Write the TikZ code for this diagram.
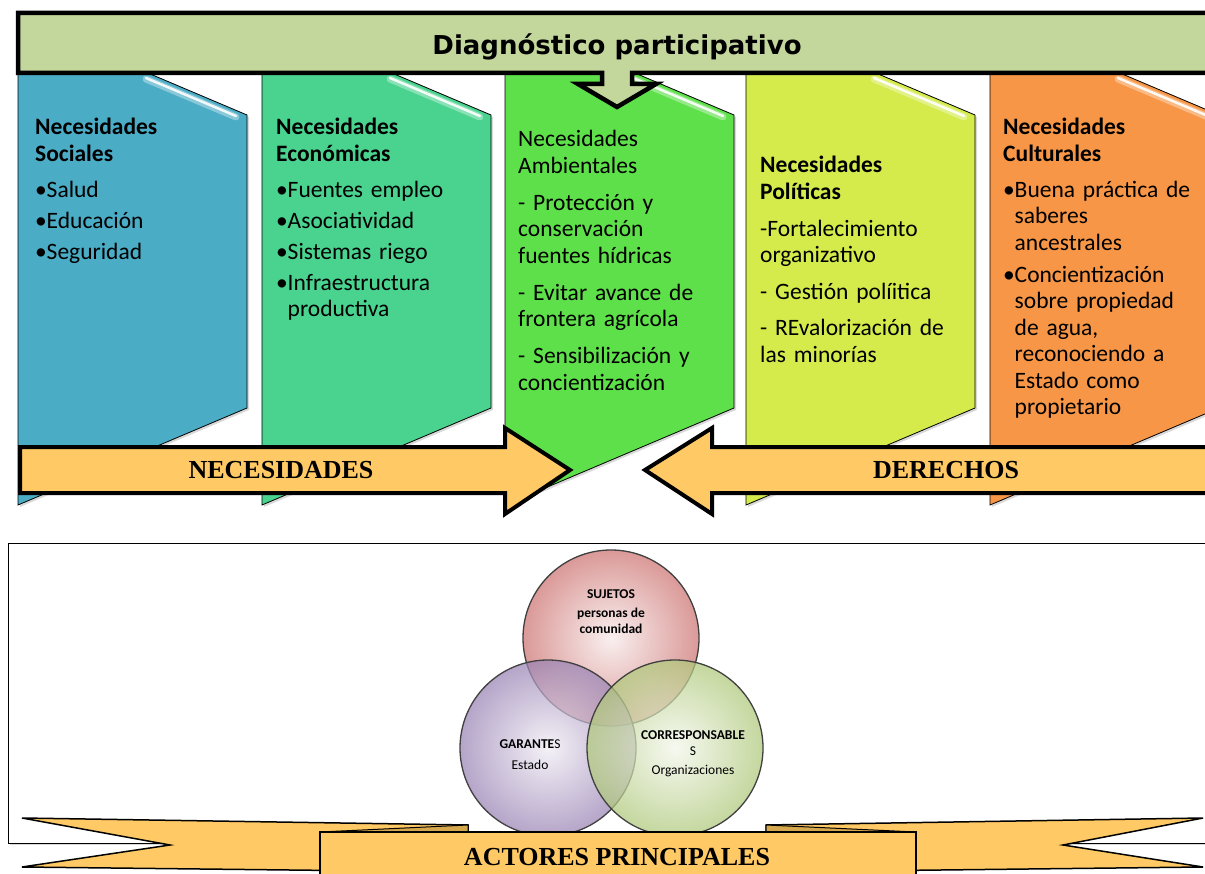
\documentclass[tikz,border=0pt]{standalone}
\usepackage{fontspec}
\setmainfont{Carlito}
\newfontfamily\titlefont{DejaVu Sans}
\newfontfamily\serifbold{Liberation Serif}
\usetikzlibrary{calc,shadows}

\definecolor{socCol}{HTML}{4BACC6}
\definecolor{ecoCol}{HTML}{4AD38F}
\definecolor{ambCol}{HTML}{5EE04A}
\definecolor{polCol}{HTML}{D5EA4B}
\definecolor{culCol}{HTML}{F79646}
\definecolor{bannerCol}{HTML}{C3D69B}
\definecolor{arrowCol}{HTML}{FFCA65}
\definecolor{foldCol}{HTML}{D6A84E}
\definecolor{sujCol}{HTML}{C0504D}
\definecolor{garCol}{HTML}{8064A2}
\definecolor{corCol}{HTML}{9BBB59}

\newlength\bulw
\setlength\bulw{11.5pt}
\newcommand\bul[2][4.5pt]{\par\vspace{#1}\hangindent=\bulw\hangafter=1\noindent\makebox[\bulw][l]{•}#2}
\newcommand\dsh[2][10.5pt]{\par\vspace{#1}\noindent #2}

\tikzset{
    paneltext/.style={anchor=north west, inner sep=0pt, text width=215pt,
        font=\fontsize{23.5}{26.5}\selectfont, execute at begin node=\raggedright},
    bigarrow/.style={fill=arrowCol, draw=black, line width=4pt, line join=miter},
    arrowlabel/.style={inner sep=0pt, font=\serifbold\bfseries\fontsize{26}{30}\selectfont},
    bubble/.style={circle, minimum size=176pt, inner sep=0pt, draw=black!75,
        line width=1.3pt, shading=radial, inner color=#1!12, outer color=#1!80,
        fill opacity=0.72},
    bubbletext/.style={align=center, inner sep=0pt, font=\fontsize{13.5}{16}\selectfont}
}

\begin{document}
\begin{tikzpicture}[x=1pt, y=-1pt]
            \useasboundingbox (0, 0) rectangle (1205, 874);
            \clip (0, 0) rectangle (1205, 874);

            % lower frame
            \filldraw[fill=white, draw=black, line width=1pt,
                drop shadow={opacity=0.3, shadow xshift=2pt, shadow yshift=-2pt}]
                (8, 543) rectangle (1215, 843);

            % panels
            \foreach \lx/\col [count=\i] in {18/socCol, 262/ecoCol, 505/ambCol, 746/polCol, 990/culCol}
                {
                    \coordinate (P\i) at (\lx, 0);
                    \filldraw[fill=\col, draw=black, line width=0.8pt,
                        drop shadow={opacity=0.3, shadow xshift=2pt, shadow yshift=-2pt}]
                        ($ (P\i) + (0, 18) $) -- ($ (P\i) + (229, 115) $)
                        -- ($ (P\i) + (229, 408) $) -- ($ (P\i) + (0, 505) $) -- cycle;
                    \draw[white, opacity=0.35, line width=7pt, line cap=round]
                        ($ (P\i) + (128, 79) $) -- ($ (P\i) + (218, 117) $);
                    \draw[white, opacity=0.9, line width=2.5pt, line cap=round]
                        ($ (P\i) + (128, 78) $) -- ($ (P\i) + (218, 116) $);
                }

            \node (socTxt) [paneltext] at (35, 118)
                {\noindent\textbf{Necesidades\newline Sociales}\bul[9.5pt]{Salud}\bul{Educación}\bul{Seguridad}\par};
            \node (ecoTxt) [paneltext] at (276, 118)
                {\noindent\textbf{Necesidades\newline Económicas}\bul[9.5pt]{Fuentes empleo}\bul{Asociatividad}\bul{Sistemas riego}\bul{Infraestructura\newline productiva}\par};
            \node (ambTxt) [paneltext] at (518, 130)
                {\noindent Necesidades\newline Ambientales\dsh{- Protección y\newline conservación\newline fuentes hídricas}\dsh{- Evitar avance de\newline frontera agrícola}\dsh{- Sensibilización y\newline concientización}\par};
            \node (polTxt) [paneltext] at (760, 156)
                {\noindent\textbf{Necesidades\newline Políticas}\dsh{-Fortalecimiento\newline organizativo}\dsh{- Gestión políitica}\dsh[9.5pt]{- REvalorización de\newline las minorías}\par};
            \node (culTxt) [paneltext] at (1003, 118)
                {\noindent\textbf{Necesidades\newline Culturales}\bul[9.5pt]{Buena práctica de\newline saberes\newline ancestrales}\bul[5.5pt]{Concientización\newline sobre propiedad\newline de agua,\newline reconociendo a\newline Estado como\newline propietario}\par};

            % big arrows
            \filldraw[bigarrow] (20, 447) -- (505, 447) -- (505, 428) -- (570, 470)
                -- (505, 514) -- (505, 493) -- (20, 493) -- cycle;
            \filldraw[bigarrow] (1215, 447) -- (712, 447) -- (712, 428) -- (645, 470)
                -- (712, 514) -- (712, 493) -- (1215, 493) -- cycle;
            \node (necLbl) [arrowlabel] at (281, 470) {NECESIDADES};
            \node (derLbl) [arrowlabel] at (946, 470) {DERECHOS};

            % banner
            \coordinate (bannerTip) at (617, 107);
            \filldraw[fill=bannerCol, draw=black, line width=4.5pt, line join=miter]
                (18, 13) -- (1215, 13) -- (1215, 73) -- (632, 73) -- (632, 84) -- (656, 84)
                -- (bannerTip) -- (578, 84) -- (602, 84) -- (602, 73) -- (18, 73) -- cycle;
            \node (diagTitle) [font=\titlefont\bfseries\fontsize{26}{30}\selectfont] at (617, 47)
                {Diagnóstico participativo};

            % actors
            \node (sujCirc) [bubble=sujCol] at (611, 638) {};
            \node (garCirc) [bubble=garCol] at (548, 748) {};
            \node (corCirc) [bubble=corCol] at (675, 748) {};
            \node (sujTxt) [bubbletext] at (611, 612)
                {\textbf{SUJETOS}\\[3pt]\textbf{personas de}\\\textbf{comunidad}};
            \node (garTxt) [bubbletext] at (530, 755) {\textbf{GARANTE}S\\[5pt]Estado};
            \node (corTxt) [bubbletext] at (693, 754)
                {\textbf{CORRESPONSABLE}\\S\\[3pt]Organizaciones};

            % ribbon
            \filldraw[fill=arrowCol, draw=black, line width=1.5pt]
                (22, 818) -- (468, 825) -- (468, 872) -- (22, 867) -- (170, 845) -- cycle;
            \filldraw[fill=arrowCol, draw=black, line width=1.5pt]
                (1203, 818) -- (766, 825) -- (766, 872) -- (1203, 867) -- (1063, 845) -- cycle;
            \filldraw[fill=foldCol, draw=black, line width=1pt] (320, 832) -- (468, 825) -- (468, 832) -- cycle;
            \filldraw[fill=foldCol, draw=black, line width=1pt] (916, 832) -- (766, 825) -- (766, 832) -- cycle;
            \filldraw[fill=arrowCol, draw=black, line width=1.5pt] (320, 832) rectangle (916, 885);
            \node (actLbl) [arrowlabel] at (617, 857) {ACTORES PRINCIPALES};
        \end{tikzpicture}
\end{document}
